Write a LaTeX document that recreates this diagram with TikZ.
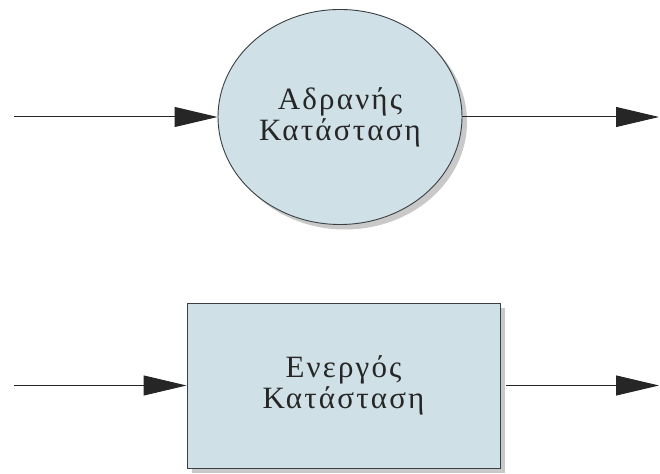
\documentclass[tikz,border=0pt]{standalone}
\usepackage{fontspec}
\setmainfont{Liberation Serif}
\usetikzlibrary{shapes.geometric,arrows.meta,shadows}
\definecolor{statefill}{HTML}{CFE0E6}
\definecolor{stateline}{HTML}{3A3F44}
\begin{document}
\begin{tikzpicture}[x=1pt,y=1pt,
  statebox/.style={draw=stateline, line width=0.9pt, fill=statefill,
    align=center, inner sep=0pt, text=black!85,
    font=\fontsize{31}{31}\selectfont\addfontfeatures{LetterSpace=7},
    drop shadow={shadow xshift=5pt, shadow yshift=-5pt, fill=black!30, opacity=0.7}},
  flow/.style={line width=1pt, draw=black!85,
    -{Triangle[length=43pt,width=20pt]}}]
  \useasboundingbox (0,0) rectangle (660,473);
  % idle state
  \node[statebox, ellipse, minimum width=244pt, minimum height=215pt]
    (idle) at (340,356) {Αδρανής\\Κατάσταση};
  % active state
  \node[statebox, rectangle, minimum width=313pt, minimum height=165pt]
    (active) at (343.5,87.5) {Ενεργός\\Κατάσταση};
  % free ends of the connectors
  \coordinate (idleIn) at (14,356);
  \coordinate (idleOut) at (659,356);
  \coordinate (activeIn) at (14,87.5);
  \coordinate (activeOut) at (659,87.5);
  \draw[flow] (idleIn) -- (idle.west);
  \draw[flow] (idle.east) -- (idleOut);
  \draw[flow] (activeIn) -- (active.west);
  \draw[flow] ([xshift=6pt]active.east) -- (activeOut);
\end{tikzpicture}
\end{document}
